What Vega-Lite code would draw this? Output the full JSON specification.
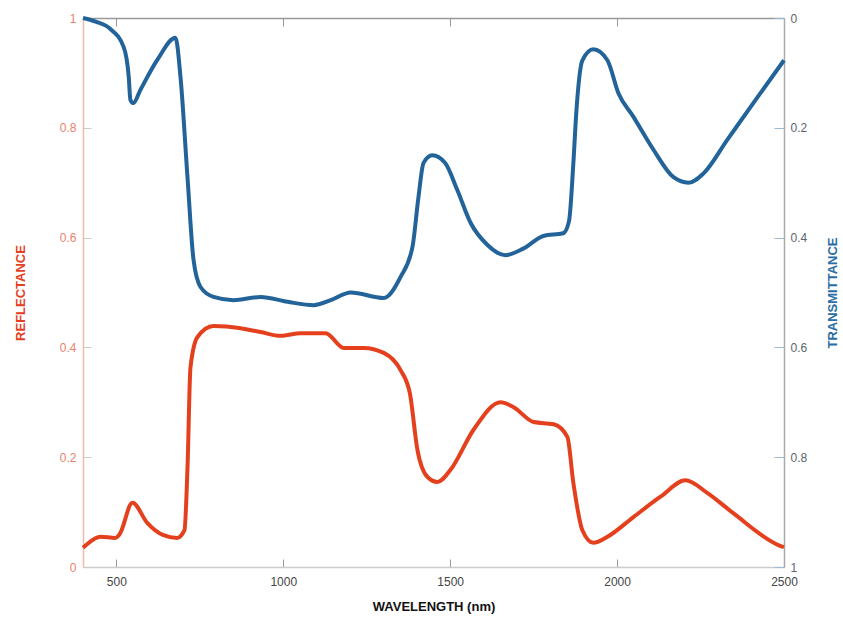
{
  "$schema": "https://vega.github.io/schema/vega-lite/v6.json",
  "width": 701,
  "height": 549,
  "autosize": {"type": "none"},
  "padding": {"left": 83, "top": 18, "right": 59, "bottom": 59},
  "background": "white",
  "config": {
    "view": {"stroke": null},
    "font": "Liberation Sans",
    "axis": {"grid": false, "labelFont": "Liberation Sans", "titleFont": "Liberation Sans", "labelFontSize": 12, "titleFontSize": 13, "titleFontWeight": "bold", "domainWidth": 1.5, "tickWidth": 1}
  },
  "datasets": {
    "reflectance": [
      {"wavelength": 400, "value": 0.035},
      {"wavelength": 413, "value": 0.042},
      {"wavelength": 452, "value": 0.055},
      {"wavelength": 497, "value": 0.053},
      {"wavelength": 510, "value": 0.06},
      {"wavelength": 548, "value": 0.117},
      {"wavelength": 593, "value": 0.08},
      {"wavelength": 641, "value": 0.058},
      {"wavelength": 682, "value": 0.053},
      {"wavelength": 704, "value": 0.067},
      {"wavelength": 713, "value": 0.18},
      {"wavelength": 722, "value": 0.364},
      {"wavelength": 743, "value": 0.419},
      {"wavelength": 791, "value": 0.439},
      {"wavelength": 872, "value": 0.435},
      {"wavelength": 932, "value": 0.428},
      {"wavelength": 992, "value": 0.421},
      {"wavelength": 1052, "value": 0.426},
      {"wavelength": 1127, "value": 0.426},
      {"wavelength": 1181, "value": 0.399},
      {"wavelength": 1241, "value": 0.399},
      {"wavelength": 1301, "value": 0.39},
      {"wavelength": 1351, "value": 0.359},
      {"wavelength": 1379, "value": 0.317},
      {"wavelength": 1402, "value": 0.213},
      {"wavelength": 1432, "value": 0.164},
      {"wavelength": 1462, "value": 0.155},
      {"wavelength": 1501, "value": 0.177},
      {"wavelength": 1570, "value": 0.25},
      {"wavelength": 1651, "value": 0.3},
      {"wavelength": 1690, "value": 0.291},
      {"wavelength": 1750, "value": 0.264},
      {"wavelength": 1810, "value": 0.26},
      {"wavelength": 1851, "value": 0.237},
      {"wavelength": 1869, "value": 0.153},
      {"wavelength": 1896, "value": 0.067},
      {"wavelength": 1929, "value": 0.044},
      {"wavelength": 1971, "value": 0.055},
      {"wavelength": 2049, "value": 0.091},
      {"wavelength": 2130, "value": 0.128},
      {"wavelength": 2205, "value": 0.158},
      {"wavelength": 2270, "value": 0.135},
      {"wavelength": 2348, "value": 0.098},
      {"wavelength": 2483, "value": 0.04},
      {"wavelength": 2500, "value": 0.036}
    ],
    "transmittance": [
      {"wavelength": 400, "value": 0.0},
      {"wavelength": 440, "value": 0.007},
      {"wavelength": 482, "value": 0.02},
      {"wavelength": 522, "value": 0.053},
      {"wavelength": 537, "value": 0.107},
      {"wavelength": 542, "value": 0.149},
      {"wavelength": 551, "value": 0.155},
      {"wavelength": 572, "value": 0.131},
      {"wavelength": 623, "value": 0.076},
      {"wavelength": 677, "value": 0.036},
      {"wavelength": 692, "value": 0.107},
      {"wavelength": 713, "value": 0.29},
      {"wavelength": 731, "value": 0.44},
      {"wavelength": 752, "value": 0.49},
      {"wavelength": 791, "value": 0.508},
      {"wavelength": 851, "value": 0.514},
      {"wavelength": 932, "value": 0.508},
      {"wavelength": 1013, "value": 0.517},
      {"wavelength": 1091, "value": 0.523},
      {"wavelength": 1142, "value": 0.514},
      {"wavelength": 1202, "value": 0.5},
      {"wavelength": 1301, "value": 0.51},
      {"wavelength": 1351, "value": 0.472},
      {"wavelength": 1387, "value": 0.417},
      {"wavelength": 1405, "value": 0.326},
      {"wavelength": 1420, "value": 0.264},
      {"wavelength": 1446, "value": 0.25},
      {"wavelength": 1485, "value": 0.264},
      {"wavelength": 1521, "value": 0.313},
      {"wavelength": 1561, "value": 0.373},
      {"wavelength": 1611, "value": 0.413},
      {"wavelength": 1665, "value": 0.432},
      {"wavelength": 1719, "value": 0.42},
      {"wavelength": 1779, "value": 0.397},
      {"wavelength": 1839, "value": 0.392},
      {"wavelength": 1856, "value": 0.37},
      {"wavelength": 1869, "value": 0.264},
      {"wavelength": 1878, "value": 0.17},
      {"wavelength": 1896, "value": 0.077},
      {"wavelength": 1929, "value": 0.057},
      {"wavelength": 1971, "value": 0.077},
      {"wavelength": 2004, "value": 0.137},
      {"wavelength": 2049, "value": 0.18},
      {"wavelength": 2109, "value": 0.24},
      {"wavelength": 2169, "value": 0.29},
      {"wavelength": 2214, "value": 0.3},
      {"wavelength": 2259, "value": 0.283},
      {"wavelength": 2330, "value": 0.222},
      {"wavelength": 2408, "value": 0.155},
      {"wavelength": 2500, "value": 0.077}
    ]
  },
  "layer": [
    {
      "data": {"name": "reflectance"},
      "mark": {"type": "line", "color": "#e5401e", "strokeWidth": 4, "interpolate": "monotone"},
      "encoding": {
        "x": {
          "field": "wavelength", "type": "quantitative",
          "scale": {"domain": [400, 2500], "nice": false, "zero": false},
          "axis": {"orient": "bottom", "values": [500, 1000, 1500, 2000, 2500], "format": "d", "title": "WAVELENGTH (nm)", "titleColor": "#111111", "labelColor": "#444444", "domainColor": "#cccccc", "tickColor": "#999999", "tickSize": -8, "labelPadding": 17, "titlePadding": 13, "labelFlush": false}
        },
        "y": {
          "field": "value", "type": "quantitative",
          "scale": {"domain": [0, 1], "nice": false},
          "axis": {"orient": "left", "values": [0, 0.2, 0.4, 0.6, 0.8, 1], "format": "~g", "title": "REFLECTANCE", "titleColor": "#e5401e", "labelColor": "#e8826d", "domainColor": "#f2b8a8", "tickColor": "#cccccc", "tickSize": -8, "labelPadding": 15, "titlePadding": 32, "labelFlush": false}
        }
      }
    },
    {
      "data": {"name": "transmittance"},
      "mark": {"type": "line", "color": "#22649a", "strokeWidth": 4, "interpolate": "monotone"},
      "encoding": {
        "x": {
          "field": "wavelength", "type": "quantitative",
          "axis": {"orient": "top", "values": [500, 1000, 1500, 2000, 2500], "labels": false, "title": null, "domainColor": "#999999", "tickColor": "#999999", "tickSize": -8}
        },
        "y": {
          "field": "value", "type": "quantitative",
          "scale": {"domain": [0, 1], "nice": false, "reverse": true},
          "axis": {"orient": "right", "values": [0, 0.2, 0.4, 0.6, 0.8, 1], "format": "~g", "title": "TRANSMITTANCE", "titleAngle": 270, "titleColor": "#2a6ea6", "labelColor": "#5a6470", "domainColor": "#aaaaaa", "tickColor": "#9bbcd6", "tickSize": -10, "labelPadding": 16, "titlePadding": 33, "labelFlush": false}
        }
      }
    }
  ],
  "resolve": {"scale": {"y": "independent"}, "axis": {"x": "independent", "y": "independent"}}
}
